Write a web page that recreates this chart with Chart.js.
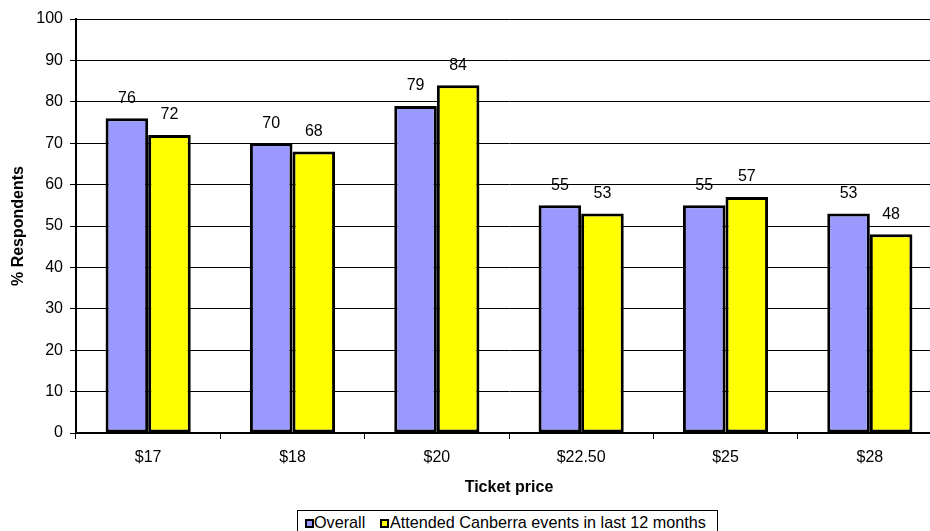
<!DOCTYPE html>
<html>
<head>
<meta charset="utf-8">
<title>Ticket price</title>
<script src="https://cdn.jsdelivr.net/npm/chart.js@4.4.1/dist/chart.umd.min.js"></script>
<style>
  html, body { margin: 0; padding: 0; background: #fff; }
  #wrap { position: relative; width: 930px; height: 531px; overflow: hidden; }
  #wrap canvas { position: absolute; left: 0; top: 0; }
  .legend { position: absolute; left: 297px; top: 510px; width: 421px; height: 30px;
            border: 1px solid #000; box-sizing: border-box; background: #fff; }
  .legend .sw { position: absolute; top: 8px; width: 9px; height: 9px;
                border: 2px solid #000; box-sizing: border-box; }
  .legend .txt { position: absolute; top: 2px; line-height: 19px; white-space: nowrap;
                 font: 16.2px Arial, "Liberation Sans", sans-serif; color: #000; }
</style>
</head>
<body>
<div id="wrap">
  <canvas id="chart" width="942" height="531"></canvas>
  <div class="legend">
    <span class="sw" style="left:7px;background:#9999ff"></span>
    <span class="txt" style="left:16px">Overall</span>
    <span class="sw" style="left:82px;background:#ffff00"></span>
    <span class="txt" style="left:92px">Attended Canberra events in last 12 months</span>
  </div>
</div>
<script>
const prices = ['$17', '$18', '$20', '$22.50', '$25', '$28'];
const overall = [76, 70, 79, 55, 55, 53];
const attended = [72, 68, 84, 53, 57, 48];
const yTicks = [0, 10, 20, 30, 40, 50, 60, 70, 80, 90, 100];

const FONT = 'Arial, "Liberation Sans", sans-serif';
Chart.defaults.color = '#000';
Chart.defaults.font.family = FONT;
Chart.defaults.font.size = 16;

// numbers above each bar
const valueLabels = {
  id: 'valueLabels',
  afterDatasetsDraw(chart) {
    const ctx = chart.ctx;
    ctx.save();
    ctx.font = '16px ' + FONT;
    ctx.fillStyle = '#000';
    ctx.textAlign = 'center';
    ctx.textBaseline = 'middle';
    chart.data.datasets.forEach((ds, i) => {
      chart.getDatasetMeta(i).data.forEach((bar, j) => {
        ctx.fillText(String(ds.data[j]), bar.x, bar.y - 20);
      });
    });
    ctx.restore();
  }
};

new Chart(document.getElementById('chart'), {
  type: 'bar',
  data: {
    labels: prices,
    datasets: [
      {
        label: 'Overall',
        data: overall,
        backgroundColor: '#9999ff',
        borderColor: '#000',
        borderWidth: 3,
        borderSkipped: false
      },
      {
        label: 'Attended Canberra events in last 12 months',
        data: attended,
        backgroundColor: '#ffff00',
        borderColor: '#000',
        borderWidth: 3,
        borderSkipped: false
      }
    ]
  },
  options: {
    responsive: false,
    animation: false,
    categoryPercentage: 0.59,
    barPercentage: 1,
    layout: { padding: { top: 19, right: 0, bottom: 0, left: 0 } },
    plugins: {
      legend: { display: false },
      tooltip: { enabled: false }
    },
    scales: {
      x: {
        grid: { display: true, drawOnChartArea: false, drawTicks: true, tickLength: 6, color: '#000', offset: true },
        border: { color: '#000', width: 2 },
        ticks: { padding: 9, font: { size: 16 } },
        title: { display: true, text: 'Ticket price', font: { size: 16, weight: 'bold' }, padding: { top: 0, bottom: 34 } },
        afterFit: (s) => { s.height = 98; }
      },
      y: {
        min: 0,
        max: 100,
        afterBuildTicks: (s) => { s.ticks = yTicks.map(v => ({ value: v })); },
        grid: { color: '#000', lineWidth: 1, tickLength: 6 },
        border: { color: '#000', width: 2 },
        ticks: { padding: 7, font: { size: 16 } },
        title: { display: true, text: '% Respondents', font: { size: 16, weight: 'bold' }, padding: { top: 9, bottom: 0 } },
        afterFit: (s) => { s.width = 76; }
      }
    }
  },
  plugins: [valueLabels]
});
</script>
</body>
</html>
